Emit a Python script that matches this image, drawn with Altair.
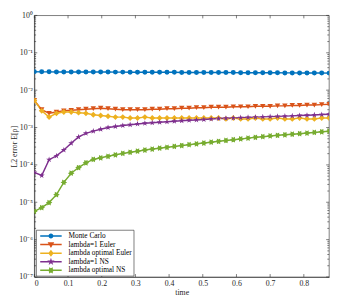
import altair as alt
import pandas as pd

time = [0, 0.021875, 0.04375, 0.065625, 0.0875, 0.109375, 0.13125, 0.153125, 0.175, 0.196875,
        0.21875, 0.240625, 0.2625, 0.284375, 0.30625, 0.328125, 0.35, 0.371875, 0.39375, 0.415625,
        0.4375, 0.459375, 0.48125, 0.503125, 0.525, 0.546875, 0.56875, 0.590625, 0.6125, 0.634375,
        0.65625, 0.678125, 0.7, 0.721875, 0.74375, 0.765625, 0.7875, 0.809375, 0.83125, 0.853125, 0.875]

monte_carlo = [0.0310, 0.0309, 0.0309, 0.0308, 0.0308, 0.0307, 0.0307, 0.0306, 0.0306, 0.0305,
               0.0305, 0.0304, 0.0304, 0.0303, 0.0303, 0.0302, 0.0302, 0.0301, 0.0300, 0.0300,
               0.0299, 0.0299, 0.0298, 0.0298, 0.0297, 0.0296, 0.0296, 0.0295, 0.0294, 0.0294,
               0.0293, 0.0292, 0.0292, 0.0291, 0.0290, 0.0290, 0.0289, 0.0288, 0.0288, 0.0287, 0.0286]

euler_1 = [0.0053, 0.0030, 0.0024, 0.0026, 0.0028, 0.0029, 0.0030, 0.0031, 0.0032, 0.0033,
           0.0032, 0.0031, 0.0030, 0.0030, 0.0030, 0.0030, 0.0031, 0.0031, 0.0032, 0.0032,
           0.0033, 0.0033, 0.0034, 0.0034, 0.0035, 0.0035, 0.0035, 0.0036, 0.0036, 0.0036,
           0.0037, 0.0037, 0.0037, 0.0038, 0.0038, 0.0039, 0.0039, 0.0040, 0.0040, 0.0041, 0.0042]

euler_opt = [0.0053, 0.0028, 0.0019, 0.0024, 0.0026, 0.0026, 0.0025, 0.0024, 0.0022, 0.0021,
             0.0020, 0.0019, 0.0019, 0.0018, 0.0018, 0.0019, 0.0018, 0.0018, 0.0018, 0.0018,
             0.0018, 0.0018, 0.0018, 0.0018, 0.0018, 0.0018, 0.0017, 0.0018, 0.0017, 0.0017,
             0.0018, 0.0017, 0.0017, 0.0018, 0.0017, 0.0017, 0.0018, 0.0017, 0.0017, 0.0018, 0.0018]

ns_1 = [6.3e-5, 5.2e-5, 1.38e-4, 1.74e-4, 2.5e-4, 3.8e-4, 5.6e-4, 7.0e-4, 8.0e-4, 9.0e-4,
        1.00e-3, 1.07e-3, 1.13e-3, 1.19e-3, 1.25e-3, 1.30e-3, 1.34e-3, 1.38e-3, 1.42e-3, 1.47e-3,
        1.52e-3, 1.56e-3, 1.60e-3, 1.64e-3, 1.69e-3, 1.74e-3, 1.77e-3, 1.80e-3, 1.84e-3, 1.87e-3,
        1.90e-3, 1.93e-3, 1.96e-3, 1.99e-3, 2.02e-3, 2.05e-3, 2.09e-3, 2.13e-3, 2.17e-3, 2.22e-3, 2.28e-3]

ns_opt = [5.7e-6, 7.2e-6, 9.8e-6, 1.6e-5, 3.4e-5, 6.0e-5, 8.5e-5, 1.14e-4, 1.40e-4, 1.55e-4,
          1.70e-4, 1.86e-4, 2.03e-4, 2.18e-4, 2.33e-4, 2.50e-4, 2.65e-4, 2.80e-4, 2.96e-4, 3.12e-4,
          3.30e-4, 3.48e-4, 3.66e-4, 3.85e-4, 4.05e-4, 4.28e-4, 4.50e-4, 4.72e-4, 4.95e-4, 5.20e-4,
          5.48e-4, 5.70e-4, 5.95e-4, 6.18e-4, 6.40e-4, 6.62e-4, 6.85e-4, 7.10e-4, 7.40e-4, 7.70e-4, 8.0e-4]

series_names = ["Monte Carlo", "lambda=1 Euler", "lambda optimal Euler", "lambda=1 NS", "lambda optimal NS"]
series_values = [monte_carlo, euler_1, euler_opt, ns_1, ns_opt]
colors = ["#0072BD", "#D95319", "#EDB120", "#7E2F8E", "#77AC30"]

x_ticks = [0, 0.1, 0.2, 0.3, 0.4, 0.5, 0.6, 0.7, 0.8]
y_major = [1e-7, 1e-6, 1e-5, 1e-4, 1e-3, 1e-2, 1e-1, 1]
y_minor = [m * 10.0 ** k for k in range(-7, 0) for m in range(2, 10)]

STAR = ("M0,-1L0.2245,-0.309L0.951,-0.309L0.363,0.118L0.588,0.809L0,0.382"
        "L-0.588,0.809L-0.363,0.118L-0.951,-0.309L-0.2245,-0.309Z")
HEX = ("M0.5,-0.866L0.5,-0.289L1,0L0.5,0.289L0.5,0.866L0,0.577L-0.5,0.866"
       "L-0.5,0.289L-1,0L-0.5,-0.289L-0.5,-0.866L0,-0.577Z")
shapes = ["circle", "triangle-down", "diamond", STAR, HEX]
sizes = [26, 46, 40, 78, 62]

# legend symbols (unit = 4 px): a 22 px line segment with the marker in its middle
LINE = "M-2.75,-0.19L2.75,-0.19L2.75,0.19L-2.75,0.19Z"
HEX_L = ("M0.475,-0.823L0.475,-0.275L0.95,0L0.475,0.275L0.475,0.823L0,0.548L-0.475,0.823"
         "L-0.475,0.275L-0.95,0L-0.475,-0.275L-0.475,-0.823L0,-0.548Z")
legend_shapes = [
    LINE + "M0.62,0A0.62,0.62 0 1,1 -0.62,0A0.62,0.62 0 1,1 0.62,0Z",
    LINE + "M-0.85,-0.6L0.85,-0.6L0,0.9Z",
    LINE + "M0,-0.9L0.7,0L0,0.9L-0.7,0Z",
    LINE + STAR,
    LINE + HEX_L,
]

rows = []
for name, vals in zip(series_names, series_values):
    for t, v in zip(time, vals):
        rows.append({"time": t, "err": v, "series": name})
df = pd.DataFrame(rows)

W, H = 302, 268
FONT = "Liberation Serif"
AX = "#262626"

xscale = alt.Scale(domain=[0, 0.875], nice=False, zero=False)
yscale = alt.Scale(type="log", domain=[1e-7, 1], nice=False)
xaxis = alt.Axis(values=x_ticks, ticks=False, grid=False, labelPadding=3,
                 labelFont=FONT, labelFontSize=8, labelColor=AX,
                 labelExpr="datum.value == 0 ? '0' : format(datum.value, '.1f')",
                 title="time", titlePadding=1, titleFont=FONT, titleFontSize=8,
                 titleFontWeight="normal", titleColor=AX, domainColor=AX, domainWidth=0.6)
yaxis = alt.Axis(values=y_major, ticks=False, grid=False, labelPadding=2,
                 labelFont=FONT, labelFontSize=8, labelColor=AX,
                 labelExpr="'10' + ['\u2070','\u207b\u00b9','\u207b\u00b2','\u207b\u00b3','\u207b\u2074','\u207b\u2075','\u207b\u2076','\u207b\u2077'][round(-log(datum.value)/LN10)]",
                 title="L2 error E[\u03c1]", titlePadding=1, titleFont=FONT, titleFontSize=8,
                 titleFontWeight="normal", titleColor=AX, domainColor=AX, domainWidth=0.6)

X = alt.X("time:Q", scale=xscale, axis=xaxis)
Y = alt.Y("err:Q", scale=yscale, axis=yaxis)

color_noleg = alt.Color("series:N", scale=alt.Scale(domain=series_names, range=colors), legend=None)
color_leg = alt.Color("series:N", scale=alt.Scale(domain=series_names, range=colors),
                      legend=alt.Legend(title=None, orient="none", legendX=2, legendY=220,
                                        fillColor="white", strokeColor=AX,
                                        padding=2, rowPadding=0.8, labelFont=FONT, labelFontSize=7.5,
                                        labelColor="black", symbolSize=64, symbolStrokeWidth=0,
                                        symbolOpacity=1, symbolOffset=9, labelOffset=14))
shape = alt.Shape("series:N", scale=alt.Scale(domain=series_names, range=shapes), legend=None)
shape_leg = alt.Shape("series:N", scale=alt.Scale(domain=series_names, range=legend_shapes))
size = alt.Size("series:N", scale=alt.Scale(domain=series_names, range=sizes), legend=None)

lines = alt.Chart(df).mark_line(strokeWidth=1.5, clip=True).encode(x=X, y=Y, color=color_noleg)
points = alt.Chart(df).mark_point(filled=True, opacity=1, clip=True, strokeWidth=0.5).encode(
    x=X, y=Y, color=color_noleg, shape=shape, size=size)
legend_layer = alt.Chart(df).transform_filter("false").mark_point(filled=True, opacity=1).encode(
    x=X, y=Y, color=color_leg, shape=shape_leg)

xt = pd.DataFrame({"time": x_ticks})
ymaj = pd.DataFrame({"err": y_major})
ymin = pd.DataFrame({"err": y_minor})
tk = dict(color=AX, strokeWidth=0.6)
xt_bot = alt.Chart(xt).mark_rule(**tk).encode(x=X, y=alt.value(H), y2=alt.value(H - 3))
xt_top = alt.Chart(xt).mark_rule(**tk).encode(x=X, y=alt.value(0), y2=alt.value(3))
yt_l = alt.Chart(ymaj).mark_rule(**tk).encode(y=Y, x=alt.value(0), x2=alt.value(3))
yt_r = alt.Chart(ymaj).mark_rule(**tk).encode(y=Y, x=alt.value(W), x2=alt.value(W - 3))
ym_l = alt.Chart(ymin).mark_rule(**tk).encode(y=Y, x=alt.value(0), x2=alt.value(1.8))
ym_r = alt.Chart(ymin).mark_rule(**tk).encode(y=Y, x=alt.value(W), x2=alt.value(W - 1.8))

chart = alt.layer(xt_bot, xt_top, yt_l, yt_r, ym_l, ym_r, lines, points, legend_layer).resolve_scale(
    shape="independent"
).resolve_legend(color="independent", shape="independent").properties(
    width=W, height=H,
    background="white",
    autosize=alt.AutoSizeParams(type="none"),
    padding={"left": 27, "top": 4, "right": 4, "bottom": 22},
).configure_view(stroke=AX, strokeWidth=0.6).configure_legend(strokeWidth=0.6, cornerRadius=0)

chart.save("out.html", embed_options={"renderer": "svg", "actions": False})
